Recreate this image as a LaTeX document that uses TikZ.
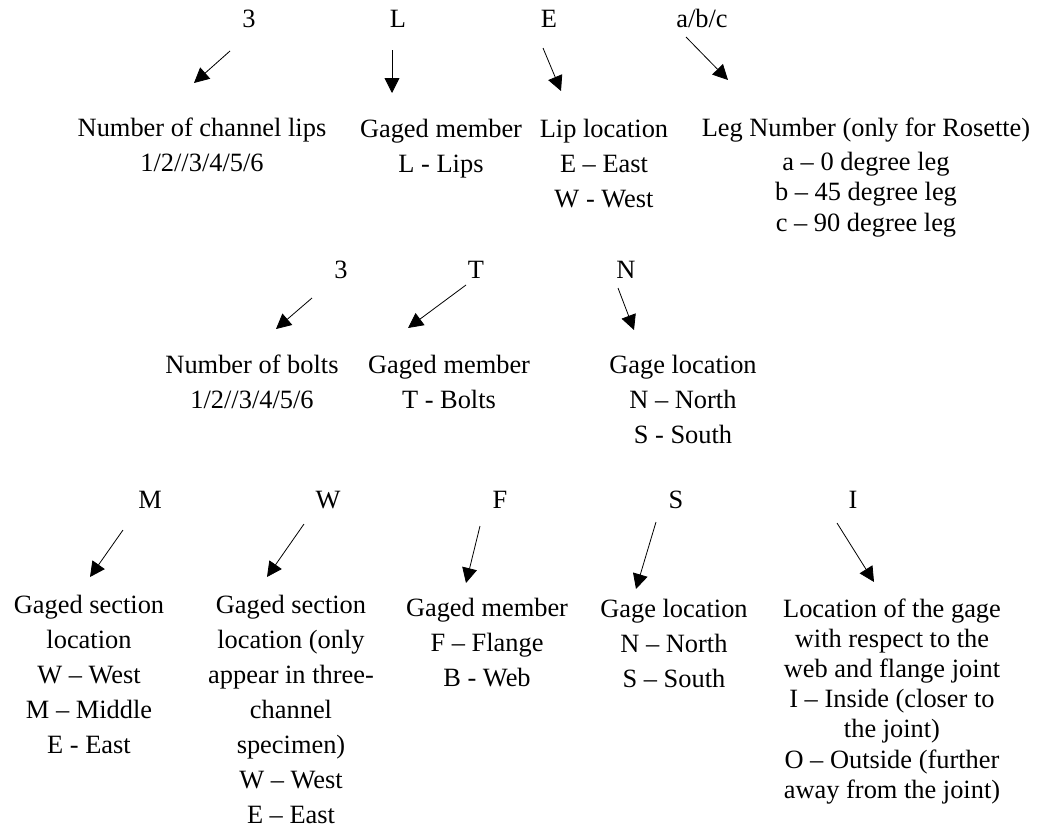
\documentclass[tikz,border=0pt]{standalone}
\usepackage{fontspec}
\setmainfont{Liberation Serif}
\usetikzlibrary{arrows.meta}
\newcommand\desctab[1]{\begin{tabular}[t]{@{}c@{}}#1\end{tabular}}
\begin{document}
\begin{tikzpicture}[x=1pt,y=-1pt,
  code/.style={anchor=base, inner sep=0pt, font=\fontsize{26.4}{35}\selectfont},
  desc/.style={anchor=base, inner sep=0pt, font=\fontsize{26.4}{35}\selectfont},
  tight/.style={font=\fontsize{26.4}{#1}\selectfont},
  arr/.style={-{Triangle[length=15pt,width=15pt]}, line width=0.8pt}]
\useasboundingbox (0,0) rectangle (1045,830);

% ---- top row ----
\node[code] (t3) at (249,27) {3};
\node[code] (tL) at (398,27) {L};
\node[code] (tE) at (549,27) {E};
\node[code] (tabc) at (702,27) {a/b/c};
\node[desc] (d1) at (202,136) {\desctab{Number of channel lips\\1/2//3/4/5/6}};
\node[desc] (d2) at (441,137) {\desctab{Gaged member\\L - Lips}};
\node[desc] (d3) at (604,137) {\desctab{Lip location\\E -- East\\W - West}};
\node[desc,tight=30.5] (d4) at (866,136) {\desctab{Leg Number (only for Rosette)\\[3.5pt]a -- 0 degree leg\\b -- 45 degree leg\\c -- 90 degree leg}};
\coordinate (s1) at (230,51);  \coordinate (e1) at (194,83);
\coordinate (s2) at (392,50);  \coordinate (e2) at (392,93);
\coordinate (s3) at (543,48);  \coordinate (e3) at (561,91);
\coordinate (s4) at (686,37);  \coordinate (e4) at (728,80);
\draw[arr] (s1) -- (e1);
\draw[arr] (s2) -- (e2);
\draw[arr] (s3) -- (e3);
\draw[arr] (s4) -- (e4);

% ---- middle row ----
\node[code] (m3) at (341,278) {3};
\node[code] (mT) at (476,278) {T};
\node[code] (mN) at (626,278) {N};
\node[desc] (n1) at (252,373) {\desctab{Number of bolts\\1/2//3/4/5/6}};
\node[desc] (n2) at (449,373) {\desctab{Gaged member\\T - Bolts}};
\node[desc] (n3) at (683,373) {\desctab{Gage location\\N -- North\\S - South}};
\coordinate (s5) at (312,298); \coordinate (e5) at (276,329);
\coordinate (s6) at (466,285); \coordinate (e6) at (408,328);
\coordinate (s7) at (618,288); \coordinate (e7) at (634,330);
\draw[arr] (s5) -- (e5);
\draw[arr] (s6) -- (e6);
\draw[arr] (s7) -- (e7);

% ---- bottom row ----
\node[code] (bM) at (150,508) {M};
\node[code] (bW) at (328,508) {W};
\node[code] (bF) at (500,508) {F};
\node[code] (bS) at (676,508) {S};
\node[code] (bI) at (853,508) {I};
\node[desc] (g1) at (89,613) {\desctab{Gaged section\\location\\W -- West\\M -- Middle\\E - East}};
\node[desc] (g2) at (291,613) {\desctab{Gaged section\\location (only\\appear in three-\\channel\\specimen)\\W -- West\\E -- East}};
\node[desc] (g3) at (487,616) {\desctab{Gaged member\\F -- Flange\\B - Web}};
\node[desc] (g4) at (674,617) {\desctab{Gage location\\N -- North\\S -- South}};
\node[desc,tight=30.2] (g5) at (892,617) {\desctab{Location of the gage\\with respect to the\\web and flange joint\\I -- Inside (closer to\\the joint)\\O -- Outside (further\\away from the joint)}};
\coordinate (s8) at (123,530);  \coordinate (e8) at (90,577);
\coordinate (s9) at (304,524);  \coordinate (e9) at (267,577);
\coordinate (s10) at (480,526); \coordinate (e10) at (466,583);
\coordinate (s11) at (656,522); \coordinate (e11) at (636,589);
\coordinate (s12) at (837,523); \coordinate (e12) at (874,582);
\draw[arr] (s8) -- (e8);
\draw[arr] (s9) -- (e9);
\draw[arr] (s10) -- (e10);
\draw[arr] (s11) -- (e11);
\draw[arr] (s12) -- (e12);
\end{tikzpicture}
\end{document}
